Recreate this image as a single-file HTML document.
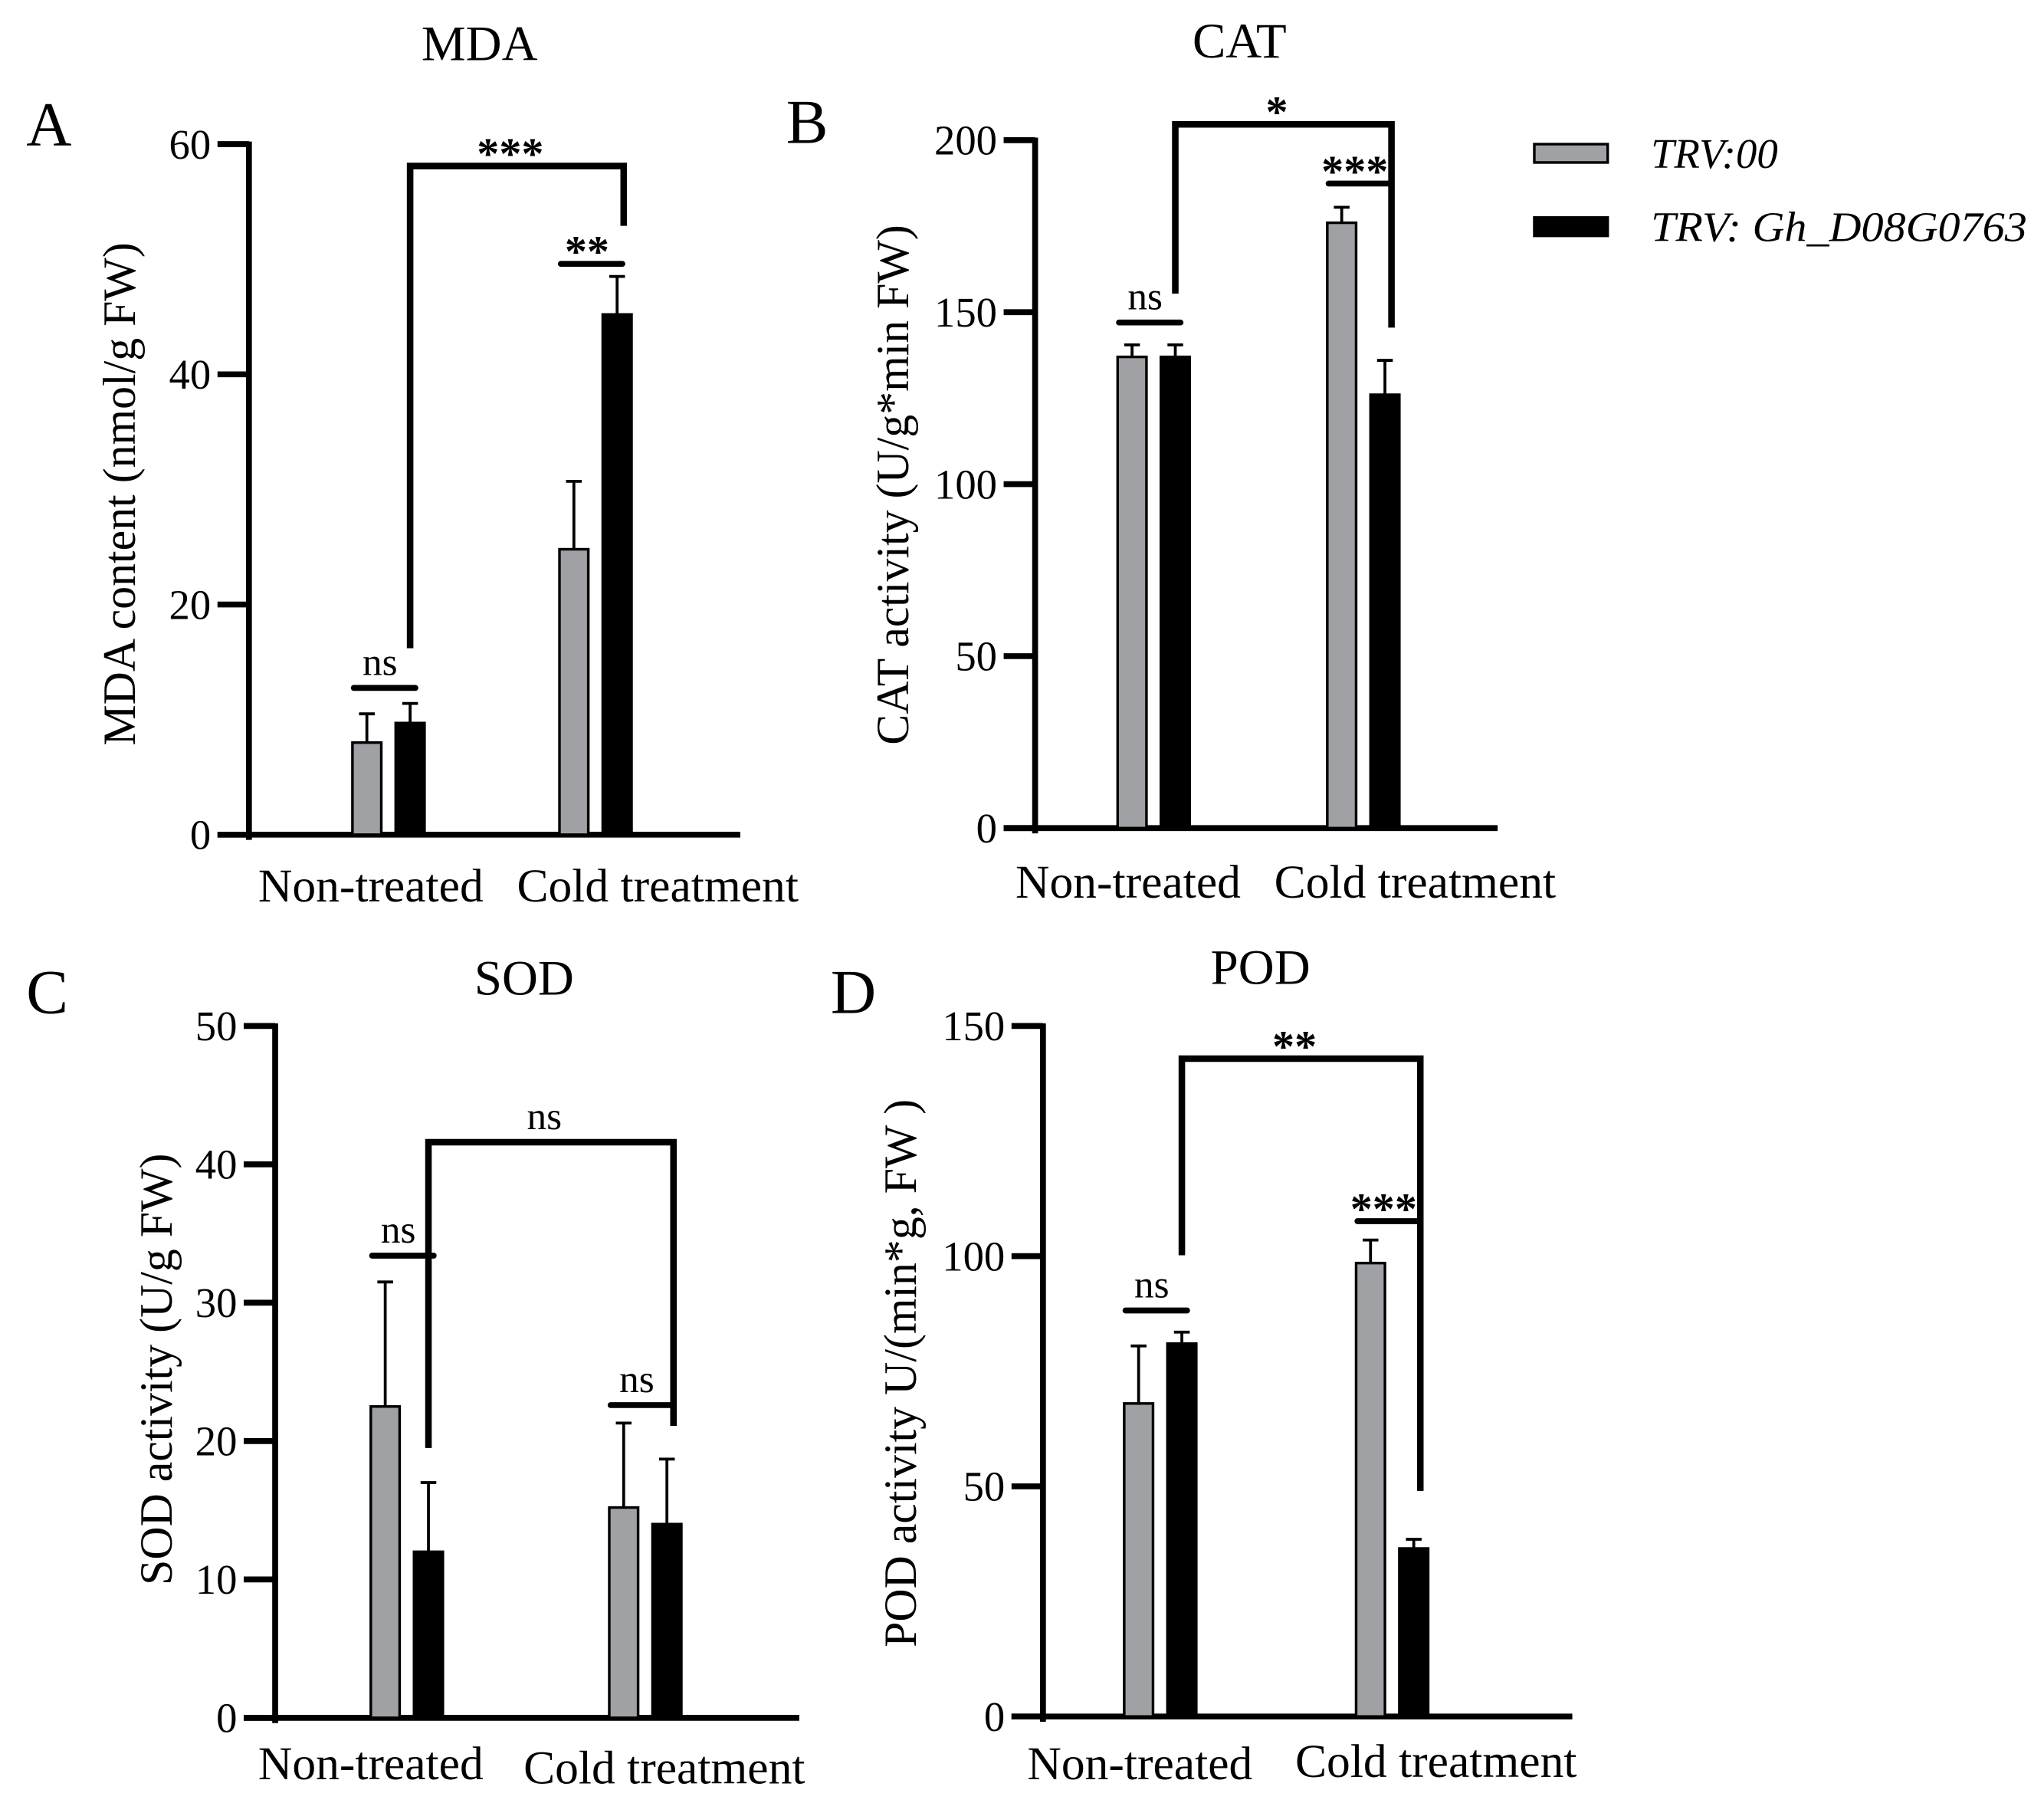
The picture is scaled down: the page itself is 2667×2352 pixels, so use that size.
<!DOCTYPE html>
<html><head><meta charset="utf-8"><style>
html,body{margin:0;padding:0;background:#fff}
svg{display:block}
text{font-family:"Liberation Serif","DejaVu Serif",serif;fill:#000}
</style></head><body>
<svg id="chart" width="2667" height="2352" viewBox="0 0 1560 1376" preserveAspectRatio="none" xmlns="http://www.w3.org/2000/svg">
<g id="legend">
  <g>
    <rect x="1171" y="110" width="56" height="14" fill="#a0a1a5" stroke="#000" stroke-width="2"/>
    <text x="1260" y="128" font-size="32" font-style="italic">TRV:00</text>
  </g>
  <g>
    <rect x="1171" y="166" width="56" height="14" fill="#000" stroke="#000" stroke-width="2"/>
    <text x="1260" y="184" font-size="32" font-style="italic" textLength="287" lengthAdjust="spacingAndGlyphs">TRV: Gh_D08G0763</text>
  </g>
</g>
</svg>
<script>
// Shared categories
const categories = ["Non-treated", "Cold treatment"];
// MDA
const mdaGray = [8, 24.8];
const mdaGrayErr = [2.5, 5.9];
const mdaBlack = [9.7, 45.2];
const mdaBlackErr = [1.7, 3.3];
const mdaTicks = [0, 20, 40, 60];
// CAT
const catGray = [137, 176];
const catGrayErr = [3.5, 4.5];
const catBlack = [137, 126];
const catBlackErr = [3.5, 10];
const catTicks = [0, 50, 100, 150, 200];
// SOD
const sodGray = [22.5, 15.2];
const sodGrayErr = [9, 6.1];
const sodBlack = [12, 14];
const sodBlackErr = [5, 4.7];
const sodTicks = [0, 10, 20, 30, 40, 50];
// POD
const podGray = [68, 98.5];
const podGrayErr = [12.5, 5];
const podBlack = [81, 36.5];
const podBlackErr = [2.5, 2];
const podTicks = [0, 50, 100, 150];
// significance annotations (values in data units)
const mdaSig = {pair: [12.75, 49.6], pairLabels: ["ns", "**"], bracket: [58.1, 16.2, 52.9], bracketLabel: "***"};
const catSig = {pair: [147, 187.4], pairLabels: ["ns", "***"], bracket: [204.6, 155.4, 145.5], bracketLabel: "*"};
const sodSig = {pair: [33.4, 22.6], pairLabels: ["ns", "ns"], bracket: [41.6, 19.5, 21.1], bracketLabel: "ns"};
const podSig = {pair: [88.2, 107.6], pairLabels: ["ns", "***"], bracket: [142.9, 100.2, 49], bracketLabel: "**"};

const NS = "http://www.w3.org/2000/svg";
const svg = document.getElementById("chart");
function mk(tag, attrs, parent) {
  const e = document.createElementNS(NS, tag);
  for (const k in attrs) e.setAttribute(k, attrs[k]);
  parent.appendChild(e);
  return e;
}

const panels = [
  {id:"mda", letter:"A", title:"MDA", ylabel:"MDA content (nmol/g FW)", gray:mdaGray, grayErr:mdaGrayErr, black:mdaBlack, blackErr:mdaBlackErr, ticks:mdaTicks, sig:mdaSig,
   L:{ax:190, y0:637, y1:110, ymax:60, xEnd:565, c0:296, step:158, letter:[20,111], title:[366,46], ylab:[103,377], xlab:[[283,688],[502,688]]}},
  {id:"cat", letter:"B", title:"CAT", ylabel:"CAT activity (U/g*min FW)", gray:catGray, grayErr:catGrayErr, black:catBlack, blackErr:catBlackErr, ticks:catTicks, sig:catSig,
   L:{ax:790, y0:632, y1:107, ymax:200, xEnd:1143, c0:880, step:160, letter:[600,109], title:[946,44], ylab:[693,370], xlab:[[861,685],[1080,685]]}},
  {id:"sod", letter:"C", title:"SOD", ylabel:"SOD activity (U/g FW)", gray:sodGray, grayErr:sodGrayErr, black:sodBlack, blackErr:sodBlackErr, ticks:sodTicks, sig:sodSig,
   L:{ax:210, y0:1311, y1:783, ymax:50, xEnd:610, c0:310, step:182, letter:[20,773], title:[400,759], ylab:[131,1045], xlab:[[283,1358],[507,1361]]}},
  {id:"pod", letter:"D", title:"POD", ylabel:"POD activity U/(min*g, FW )", gray:podGray, grayErr:podGrayErr, black:podBlack, blackErr:podBlackErr, ticks:podTicks, sig:podSig,
   L:{ax:796, y0:1310, y1:783, ymax:150, xEnd:1200, c0:885, step:177, letter:[634,773], title:[962,751], ylab:[699,1048], xlab:[[870,1358],[1096,1356]]}}
];

panels.forEach(p => {
  const L = p.L;
  const y = v => L.y0 - (v / L.ymax) * (L.y0 - L.y1);
  const cx = i => L.c0 + i * L.step;
  const g = mk("g", {}, svg);
  
  

  let t = mk("text", {x:L.letter[0], y:L.letter[1], "font-size":48}, g);
  t.textContent = p.letter;
  
  
  t = mk("text", {x:L.title[0], y:L.title[1], "font-size":38, "text-anchor":"middle"}, g);
  t.textContent = p.title;
  
  
  t = mk("text", {x:0, y:0, "font-size":35, "text-anchor":"middle", transform:`translate(${L.ylab[0]},${L.ylab[1]}) rotate(-90)`}, g);
  t.textContent = p.ylabel;
  
  

  let a = mk("line", {x1:L.ax, y1:y(p.ticks[p.ticks.length-1]) - 2, x2:L.ax, y2:L.y0 + 4, stroke:"#000", "stroke-width":4.5}, g);
  
  
  a = mk("line", {x1:L.ax - 24, y1:L.y0, x2:L.xEnd, y2:L.y0, stroke:"#000", "stroke-width":4.5}, g);
  
  
  p.ticks.forEach(v => {
    const tk = mk("line", {x1:L.ax - 24, y1:y(v), x2:L.ax, y2:y(v), stroke:"#000", "stroke-width":4.5}, g);
    
    
    const tl = mk("text", {x:L.ax - 29, y:y(v) + 11, "font-size":32, "text-anchor":"end"}, g);
    tl.textContent = v;
    
    
  });
  categories.forEach((c, i) => {
    const xl = mk("text", {x:L.xlab[i][0], y:L.xlab[i][1], "font-size":36, "text-anchor":"middle"}, g);
    xl.textContent = c;
    
    

    const series = [[p.gray, p.grayErr, "#a0a1a5", -27], [p.black, p.blackErr, "#000", 6]];
    series.forEach(([vals, errs, fill, off], si) => {
      const x = cx(i) + off, w = 22;
      const eb = mk("line", {x1:x + w/2, y1:y(vals[i] + errs[i]), x2:x + w/2, y2:y(vals[i]), stroke:"#000", "stroke-width":2.2}, g);
      
      
      const ec = mk("line", {x1:x + w/2 - 6, y1:y(vals[i] + errs[i]), x2:x + w/2 + 6, y2:y(vals[i] + errs[i]), stroke:"#000", "stroke-width":2.2}, g);
      
      
      const r = mk("rect", {x:x, y:y(vals[i]), width:w, height:L.y0 - y(vals[i]), fill:fill, stroke:"#000", "stroke-width":2}, g);
      
      
    });

    const sy = y(p.sig.pair[i]);
    const sl = mk("line", {x1:cx(i) - 26, y1:sy, x2:cx(i) + 21, y2:sy, stroke:"#000", "stroke-width":4.5, "stroke-linecap":"round"}, g);
    
    
    const lab = p.sig.pairLabels[i];
    const st = mk("text", {x:cx(i) - 6, y:sy - (lab === "ns" ? 10 : -2), "font-size": lab === "ns" ? 30 : 34, "font-weight": lab === "ns" ? "normal" : "bold", "text-anchor":"middle"}, g);
    st.textContent = lab;
    
    
  });

  const bx1 = cx(0) + 17, bx2 = cx(1) + 22;
  const [top, lb, rb] = p.sig.bracket;
  const br = mk("path", {d:`M${bx1},${y(lb)} L${bx1},${y(top)} L${bx2},${y(top)} L${bx2},${y(rb)}`, fill:"none", stroke:"#000", "stroke-width":5}, g);
  
  
  const bl = p.sig.bracketLabel;
  const bt = mk("text", {x:(bx1 + bx2) / 2 - 5, y:y(top) - (bl === "ns" ? 10 : -2), "font-size": bl === "ns" ? 30 : 34, "font-weight": bl === "ns" ? "normal" : "bold", "text-anchor":"middle"}, g);
  bt.textContent = bl;
  
  
});
</script>
</body></html>
